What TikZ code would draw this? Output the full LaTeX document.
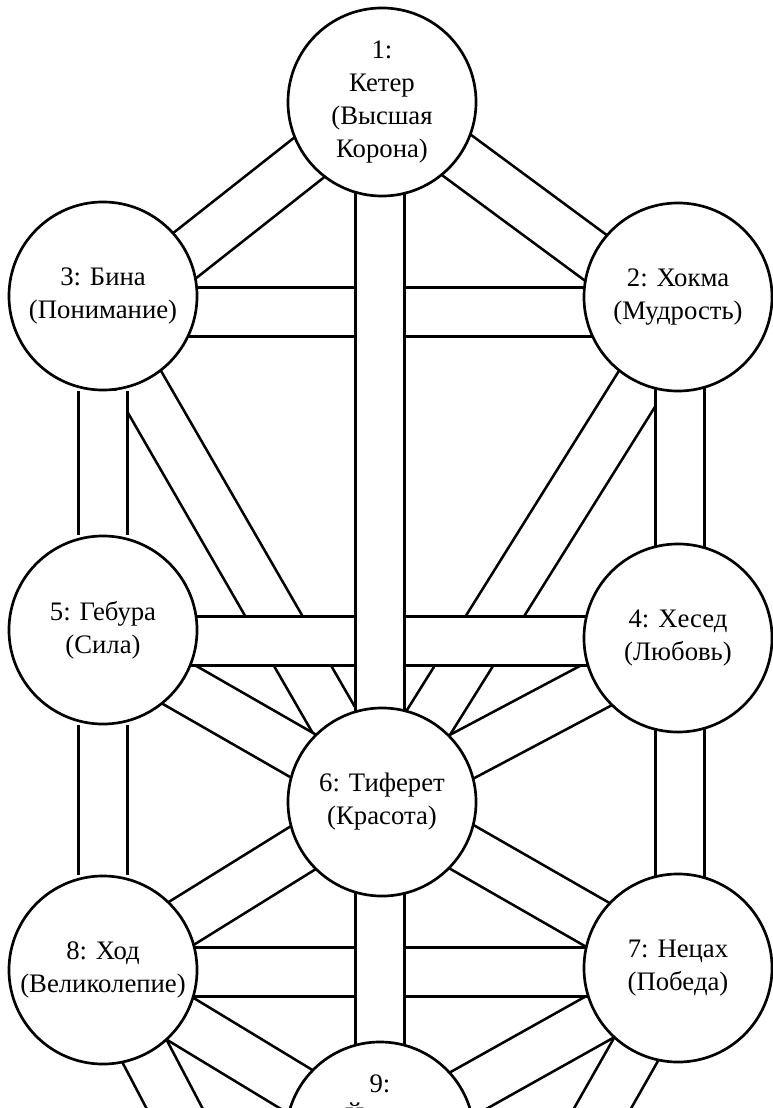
\documentclass[tikz,border=0pt]{standalone}
\usepackage{fontspec}
\setmainfont{Liberation Serif}
\usetikzlibrary{calc}
\pgfdeclarelayer{background}
\pgfsetlayers{background,main}
\begin{document}
\begin{tikzpicture}[x=0.025cm,y=-0.025cm,
        sefira/.style={circle,draw=black,fill=white,line width=1.9pt,minimum size=4.7cm,inner sep=0pt,align=center,font=\fontsize{19}{23.5}\selectfont},
        path band/.style={draw=black,line width=1.9pt,double=white,double distance=1.17cm}]
        \useasboundingbox (0,0) rectangle (772,1108);
        \node [sefira] (keter) at (382,102) {1:\\Кетер\\(Высшая\\Корона)};
        \node [sefira] (hokhma) at (678,297) {2: Хокма\\(Мудрость)};
        \node [sefira] (bina) at (103,296) {3: Бина\\(Понимание)};
        \node [sefira] (hesed) at (678,638) {4: Хесед\\(Любовь)};
        \node [sefira] (gevura) at (103,630) {5: Гебура\\(Сила)};
        \node [sefira] (tiferet) at (382,802) {6: Тиферет\\(Красота)};
        \node [sefira] (netzah) at (678,968) {7: Нецах\\(Победа)};
        \node [sefira] (hod) at (103,970) {8: Ход\\(Великолепие)};
        \node [sefira] (yesod) at (380,1136) {9:\\Йесод\\(Основа-\\ние)};
        \coordinate (malkhut) at (380,1500);
        \begin{pgfonlayer}{background}
        \fill [white] (0,0) rectangle (772,1108);
        % diagonal paths
        \draw [path band] ($(keter)+(0,-2)$) -- ($(bina)+(0,24)$);
        \draw [path band] ($(keter)+(0,-2)$) -- ($(hokhma)+(2,23)$);
        \draw [path band] ($(bina)+(0,24)$) -- ($(tiferet)+(-2,-2)$);
        \draw [path band] ($(hokhma)+(2,23)$) -- ($(tiferet)+(-2,-2)$);
        \draw [path band] ($(gevura)+(0,11)$) -- ($(tiferet)+(-2,-2)$);
        \draw [path band] ($(hesed)+(2,3)$) -- ($(tiferet)+(-2,-2)$);
        \draw [path band] ($(tiferet)+(-2,-2)$) -- ($(hod)+(0,2)$);
        \draw [path band] ($(tiferet)+(-2,-2)$) -- ($(netzah)+(2,4)$);
        \draw [path band] ($(hod)+(0,2)$) -- ($(yesod)+(0,4)$);
        \draw [path band] ($(netzah)+(2,4)$) -- ($(yesod)+(0,4)$);
        \draw [path band] ($(hod)+(0,2)$) -- (malkhut);
        \draw [path band] ($(netzah)+(2,4)$) -- (malkhut);
        % horizontal paths
        \draw [path band] ($(bina)+(0,16)$) -- ($(hokhma)+(0,15)$);
        \draw [path band] ($(gevura)+(0,11)$) -- ($(hesed)+(0,3)$);
        \draw [path band] ($(hod)+(0,2)$) -- ($(netzah)+(0,4)$);
        % vertical paths
        \draw [path band] ($(keter)+(-2,0)$) -- ($(tiferet)+(-2,0)$);
        \draw [path band] ($(tiferet)+(-2,0)$) -- ($(yesod)+(0,0)$);
        \draw [path band] (bina) -- (gevura);
        \draw [path band] (gevura) -- (hod);
        \draw [path band] ($(hokhma)+(2,0)$) -- ($(hesed)+(2,0)$);
        \draw [path band] ($(hesed)+(2,0)$) -- ($(netzah)+(2,0)$);
        \end{pgfonlayer}
\end{tikzpicture}
\end{document}
